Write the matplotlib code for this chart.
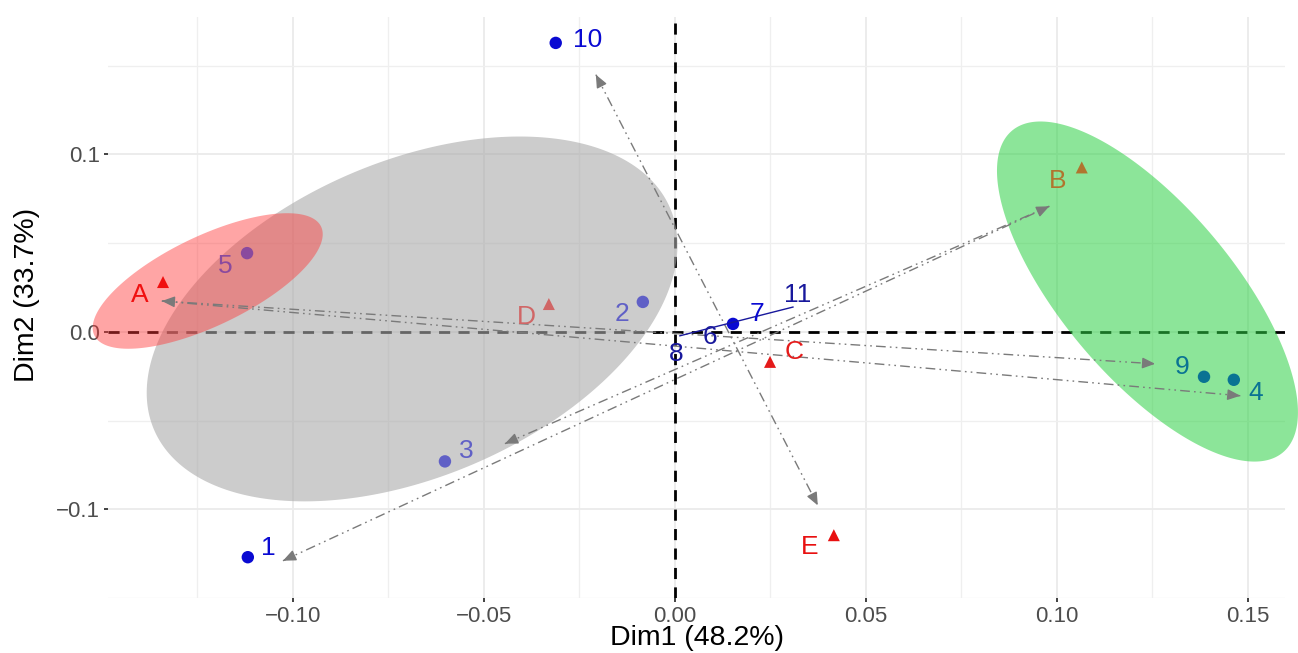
import numpy as np
import matplotlib
matplotlib.use("Agg")
import matplotlib.pyplot as plt

plt.rcParams['font.family'] = ['Liberation Sans', 'DejaVu Sans']

# individuals (rows)
ind_names = ['1', '2', '3', '4', '5', '7', '9', '10']
ind_x = [-0.1118, -0.0084, -0.0602, 0.1463, -0.1120, 0.0152, 0.1385, -0.0312]
ind_y = [-0.1270, 0.0169, -0.0730, -0.0270, 0.0444, 0.0045, -0.0253, 0.1629]
ind_lab_x = [-0.1065, -0.0139, -0.0547, 0.1521, -0.1178, 0.0215, 0.1327, -0.0228]
ind_lab_y = [-0.1219, 0.0101, -0.0674, -0.0343, 0.0371, 0.0101, -0.0197, 0.1646]
ind_colors = ['#0A0AD2', '#6060C6', '#6060C6', '#0A7393', '#8A4A9E', '#0A0AD2', '#0A7393', '#0A0AD2']

# individuals sitting on the origin (no visible dot)
near_names = ['6', '8', '11']
near_x = [0.0015, 0.0005, 0.0013]
near_y = [-0.0015, -0.0020, -0.0022]
near_lab_x = [0.0092, 0.0003, 0.0322]
near_lab_y = [-0.0028, -0.0124, 0.0208]
near_color = '#18189C'

# variables (columns)
var_names = ['A', 'B', 'C', 'D', 'E']
var_x = [-0.1340, 0.1065, 0.0249, -0.0330, 0.0416]
var_y = [0.0281, 0.0927, -0.0169, 0.0157, -0.1146]
var_lab_x = [-0.1401, 0.1003, 0.0312, -0.0390, 0.0353]
var_lab_y = [0.0208, 0.0848, -0.0112, 0.0084, -0.1213]
var_colors = ['#F01010', '#B0752E', '#E41A1A', '#D06666', '#E81010']

# arrows
arr_x0 = [-0.1343, -0.1343, -0.0207, -0.1026, -0.0445]
arr_y0 = [0.0174, 0.0174, 0.1450, -0.1290, -0.0630]
arr_x1 = [0.1257, 0.1480, 0.0374, 0.0980, 0.0980]
arr_y1 = [-0.0180, -0.0360, -0.0978, 0.0708, 0.0708]
head0 = [True, False, True, True, True]
head1 = [True, True, True, True, False]

# confidence ellipses: centre, two conjugate semi-axis vectors
ell_cx = [-0.0688, -0.1223, 0.1237]
ell_cy = [0.0073, 0.0287, 0.02275]
ell_u = [(0.0675, 0.0627), (0.02967, 0.03067), (0.03545, -0.0907)]
ell_v = [(0.01642, -0.0815), (0.0051, -0.02277), (0.01718, 0.031)]
ell_col = [(0.667, 0.667, 0.667), (1.0, 0.22, 0.22), (0.18, 0.82, 0.27)]
ell_alpha = [0.6, 0.45, 0.55]

fig = plt.figure(figsize=(12.98, 6.53), dpi=100)
ax = fig.add_axes([108 / 1298, 1 - 598 / 653, (1285 - 108) / 1298, (598 - 17) / 653])

ax.set_xlim(-0.1484, 0.1597)
ax.set_ylim(-0.1489, 0.1775)

ax.set_xticks([-0.10, -0.05, 0.0, 0.05, 0.10, 0.15])
ax.set_xticks([-0.125, -0.075, -0.025, 0.025, 0.075, 0.125], minor=True)
ax.set_yticks([-0.1, 0.0, 0.1])
ax.set_yticks([-0.15, -0.05, 0.05, 0.15], minor=True)
ax.set_xticklabels(['\u22120.10', '\u22120.05', '0.00', '0.05', '0.10', '0.15'])
ax.set_yticklabels(['\u22120.1', '0.0', '0.1'])
ax.grid(which='major', color='#EBEBEB', lw=1.3)
ax.grid(which='minor', color='#EFEFEF', lw=0.9)
ax.set_axisbelow(True)
for s in ax.spines.values():
    s.set_visible(False)
ax.tick_params(which='major', length=3, width=1.3, color='#333333', labelcolor='#4D4D4D',
               labelsize=16, pad=3)
ax.tick_params(which='minor', length=0)

ax.axhline(0, color='black', ls=(0, (4, 3)), lw=2, zorder=1)
ax.axvline(0, color='black', ls=(0, (4, 3)), lw=2, zorder=1)

t = np.linspace(0, 2 * np.pi, 300)
for i in range(len(ell_cx)):
    ex = ell_cx[i] + np.cos(t) * ell_u[i][0] + np.sin(t) * ell_v[i][0]
    ey = ell_cy[i] + np.cos(t) * ell_u[i][1] + np.sin(t) * ell_v[i][1]
    ax.fill(ex, ey, color=ell_col[i], alpha=ell_alpha[i], lw=0, zorder=2, clip_on=False)

grey = '#7A7A7A'
head = dict(arrowstyle='-|>,head_length=0.7,head_width=0.3', color=grey,
            lw=1, shrinkA=0, shrinkB=0, mutation_scale=11)
for i in range(len(arr_x0)):
    ax.plot([arr_x0[i], arr_x1[i]], [arr_y0[i], arr_y1[i]], color=grey, lw=1.0,
            ls=(0, (7, 3, 1.2, 3, 1.2, 3)), zorder=3)
    dx = arr_x1[i] - arr_x0[i]
    dy = arr_y1[i] - arr_y0[i]
    if head1[i]:
        ax.annotate('', xy=(arr_x1[i], arr_y1[i]), xytext=(arr_x1[i] - dx * 0.01, arr_y1[i] - dy * 0.01),
                    arrowprops=head, zorder=3)
    if head0[i]:
        ax.annotate('', xy=(arr_x0[i], arr_y0[i]), xytext=(arr_x0[i] + dx * 0.01, arr_y0[i] + dy * 0.01),
                    arrowprops=head, zorder=3)

# points + labels
ax.scatter(ind_x, ind_y, s=80, c=ind_colors, zorder=4, linewidths=0)
for i in range(len(ind_names)):
    ax.text(ind_lab_x[i], ind_lab_y[i], ind_names[i], color=ind_colors[i], fontsize=19,
            ha='center', va='center', zorder=5)

ax.plot([near_x[2], near_lab_x[2] - 0.0013], [near_y[2], near_lab_y[2] - 0.0068],
        color=near_color, lw=1.0, zorder=4)
for i in range(len(near_names)):
    ax.text(near_lab_x[i], near_lab_y[i], near_names[i], color=near_color, fontsize=19,
            ha='center', va='center', zorder=5)

ax.scatter(var_x, var_y, s=75, c=var_colors, marker='^', zorder=4, linewidths=0)
for i in range(len(var_names)):
    ax.text(var_lab_x[i], var_lab_y[i], var_names[i], color=var_colors[i], fontsize=19,
            ha='center', va='center', zorder=5)

ax.set_xlabel('Dim1 (48.2%)', fontsize=20.5, color='black')
ax.set_ylabel('Dim2 (33.7%)', fontsize=20.5, color='black')
ax.xaxis.set_label_coords((697 - 108) / (1285 - 108), -(638 - 598) / (598 - 17))
ax.yaxis.set_label_coords(-(108 - 27) / (1285 - 108), (598 - 295) / (598 - 17))
ax.xaxis.label.set_va('center')
ax.yaxis.label.set_va('center')

fig.savefig('out.png', dpi=100)
